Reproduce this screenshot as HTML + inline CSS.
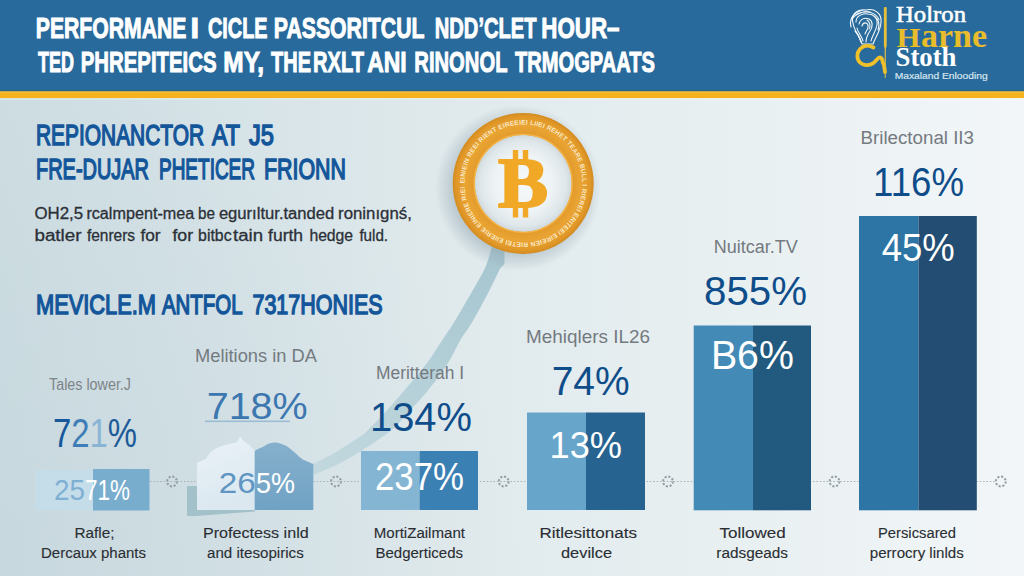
<!DOCTYPE html>
<html lang="en">
<head>
<meta charset="utf-8">
<title>Performance infographic</title>
<style>
  html,body{margin:0;padding:0;background:#dfe9ec;}
  body{width:1024px;height:576px;overflow:hidden;font-family:"Liberation Sans",sans-serif;}
  svg{display:block;position:absolute;left:0;top:0;}
  text{font-family:"Liberation Sans",sans-serif;}
  .t{font-weight:700;fill:#ffffff;font-size:30px;stroke:#ffffff;stroke-width:1px;}
  .h{font-weight:400;fill:#13569a;font-size:29px;stroke:#13569a;stroke-width:1.5px;}
  .b{fill:#2b3037;font-size:16px;stroke:#2b3037;stroke-width:0.3px;}
  .g{fill:#747a80;font-size:18px;}
  .p{fill:#0f4d8a;font-size:40px;}
  .w{fill:#ffffff;font-size:38px;}
  .l{fill:#2a2e33;font-size:15.5px;stroke:#2a2e33;stroke-width:0.12px;}
  .s{font-family:"Liberation Serif",serif;font-weight:700;}
</style>
</head>
<body>
<svg width="1024" height="576" viewBox="0 0 1024 576">
  <defs>
    <linearGradient id="bg" x1="0" y1="0" x2="1" y2="0">
      <stop offset="0" stop-color="#cddde2"/>
      <stop offset="0.3" stop-color="#d9e5e9"/>
      <stop offset="0.42" stop-color="#dfe9ec"/>
      <stop offset="0.65" stop-color="#e6eef0"/>
      <stop offset="1" stop-color="#f2f6f8"/>
    </linearGradient>
    <radialGradient id="bgv" gradientUnits="userSpaceOnUse" cx="0" cy="576" r="520">
      <stop offset="0" stop-color="#b9cdd5" stop-opacity="0.32"/>
      <stop offset="1" stop-color="#b9cdd5" stop-opacity="0"/>
    </radialGradient>
    <radialGradient id="coinsh" cx="0.5" cy="0.5" r="0.5">
      <stop offset="0.76" stop-color="#8fa3ad" stop-opacity="0.5"/>
      <stop offset="1" stop-color="#8fa3ad" stop-opacity="0"/>
    </radialGradient>
    <linearGradient id="b2l" x1="0" y1="0" x2="0.3" y2="1">
      <stop offset="0" stop-color="#eaf2f7"/><stop offset="1" stop-color="#dbe8f0"/>
    </linearGradient>
    <linearGradient id="b2r" x1="0" y1="0" x2="0" y2="1">
      <stop offset="0" stop-color="#86b0cd"/><stop offset="1" stop-color="#70a2c4"/>
    </linearGradient>
    <linearGradient id="arw" gradientUnits="userSpaceOnUse" x1="300" y1="490" x2="500" y2="250">
      <stop offset="0" stop-color="#c4d9df"/><stop offset="0.5" stop-color="#b5d0d8"/><stop offset="1" stop-color="#a6c6d0"/>
    </linearGradient>
    <radialGradient id="disc" cx="0.5" cy="0.5" r="0.5">
      <stop offset="0" stop-color="#f5f8f9"/><stop offset="0.6" stop-color="#eef3f5"/><stop offset="0.88" stop-color="#dfe7ea"/><stop offset="1" stop-color="#cfdade"/>
    </radialGradient>
    <radialGradient id="ring" cx="0.5" cy="0.5" r="0.5">
      <stop offset="0.68" stop-color="#e29a2a"/><stop offset="0.82" stop-color="#e9a433"/><stop offset="0.95" stop-color="#e09728"/><stop offset="1" stop-color="#d38a1f"/>
    </radialGradient>
    <path id="ringpath" d="M 464.5 183.5 A 59 59 0 1 1 464.5 183.6"/>
  </defs>

  <!-- page background -->
  <rect x="0" y="0" width="1024" height="576" fill="url(#bg)"/>
  <rect x="0" y="98" width="1024" height="478" fill="url(#bgv)"/>

  <!-- header band -->
  <rect x="0" y="0" width="1024" height="91.5" fill="#276a9b"/>
  <rect x="0" y="90.4" width="1024" height="1.4" fill="#2b5f74"/>
  <rect x="0" y="91.5" width="1024" height="6.6" fill="#f5b21c"/>
  <rect x="0" y="91.5" width="1024" height="1.2" fill="#f1c24a"/>
  <rect x="0" y="98.1" width="1024" height="1.6" fill="#ffffff" opacity="0.35"/>

  <!-- header text -->
  <text class="t" x="35.8" y="38" textLength="150.7" lengthAdjust="spacingAndGlyphs">PERFORMANE</text>
  <text class="t" x="190.5" y="38" textLength="8.6" lengthAdjust="spacingAndGlyphs">I</text>
  <text class="t" x="208" y="38" textLength="59.5" lengthAdjust="spacingAndGlyphs">CICLE</text>
  <text class="t" x="273.8" y="38" textLength="150.7" lengthAdjust="spacingAndGlyphs">PASSORITCUL</text>
  <text class="t" x="434.8" y="38" textLength="101.7" lengthAdjust="spacingAndGlyphs">NDD’CLET</text>
  <text class="t" x="541.3" y="38" textLength="78.2" lengthAdjust="spacingAndGlyphs">HOUR–</text>
  <text class="t" x="38" y="72" textLength="36" lengthAdjust="spacingAndGlyphs">TED</text>
  <text class="t" x="80.8" y="72" textLength="135.7" lengthAdjust="spacingAndGlyphs">PHREPITEICS</text>
  <text class="t" x="223.3" y="72" textLength="40.7" lengthAdjust="spacingAndGlyphs">MY,</text>
  <text class="t" x="271" y="72" textLength="40" lengthAdjust="spacingAndGlyphs">THE</text>
  <text class="t" x="313" y="72" textLength="51" lengthAdjust="spacingAndGlyphs">RXLT</text>
  <text class="t" x="367.2" y="72" textLength="39.5" lengthAdjust="spacingAndGlyphs">ANI</text>
  <text class="t" x="414.3" y="72" textLength="93.2" lengthAdjust="spacingAndGlyphs">RINONOL</text>
  <text class="t" x="515" y="72" textLength="140" lengthAdjust="spacingAndGlyphs">TRMOGPAATS</text>
  <!-- logo -->
  <g fill="none" stroke="#f4f8fb" stroke-width="1.1" stroke-linecap="round" stroke-linejoin="round">
    <path d="M 853 23 C 850 14 858 9 866 10 C 874 8 882 13 881 22 C 881 30 876 36 873 44 L 862 44 C 860 36 854 31 853 23 Z"/>
    <path d="M 856 22 C 856 16 862 13 868 14 C 874 14 878 19 877 25 C 876 31 872 36 871 41"/>
    <path d="M 859 24 C 860 19 865 17 869 19 C 873 21 873 27 870 31 C 868 34 866 38 866 42"/>
    <path d="M 862 26 C 863 22 867 22 868 25 C 869 28 866 31 865 34"/>
    <path d="M 851 27 C 849 20 853 13 860 11 M 864 12 C 870 11 877 14 879 20 M 857 28 C 858 33 862 36 863 41 M 867 20 C 870 22 871 26 869 29"/>
    <path d="M 852 19 C 856 13 864 11 870 12 M 855 31 C 858 34 860 38 861 42 M 874 16 C 879 19 880 25 878 30"/>
  </g>
  <path d="M 873.5 47.5 C 869 45 863.5 45.5 860 49 C 856.5 53 856.5 59 860 62.5 C 863.5 66 869.5 66 873.5 63 C 877 60.5 878 56.5 880.5 57.5 C 883 58.5 882 62 884 65 L 885 72" fill="none" stroke="#f0c02a" stroke-width="3.8" stroke-linecap="round" stroke-linejoin="round"/>
  <path d="M 883.9 8 C 883.9 6.6 886.7 6.6 886.7 8 L 886.7 45 C 886.7 47 886 47.5 885.9 49 L 885.7 78 L 884.7 78 L 884.7 49 C 884.6 47.5 883.9 47 883.9 45 Z" fill="#e6c03a"/>
  <text class="s" x="896" y="22" stroke="#ffffff" stroke-width="0.55" textLength="70" lengthAdjust="spacingAndGlyphs" style="font-size:22.5px;font-weight:400" fill="#ffffff">Holron</text>
  <text class="s" x="896.5" y="47" fill="#e9bc2c"><tspan style="font-size:27px" textLength="24" lengthAdjust="spacingAndGlyphs">H</tspan><tspan style="font-size:34px" x="921" textLength="66" lengthAdjust="spacingAndGlyphs">arne</tspan></text>
  <text class="s" x="895.5" y="66.4" textLength="61" lengthAdjust="spacingAndGlyphs" style="font-size:26.5px" fill="#ffffff">Stoth</text>
  <text class="" x="894.7" y="79.2" textLength="93" lengthAdjust="spacingAndGlyphs" style="font-size:9.6px" fill="#d6e4ef" stroke="#d6e4ef" stroke-width="0.2">Maxaland Enlooding</text>
  <!-- left headings and body -->
  <text class="h" x="36" y="145" textLength="168" lengthAdjust="spacingAndGlyphs">REPIONANCTOR</text>
  <text class="h" x="212" y="145" textLength="28" lengthAdjust="spacingAndGlyphs">AT</text>
  <text class="h" x="249" y="145" textLength="25" lengthAdjust="spacingAndGlyphs">J5</text>
  <text class="h" x="36" y="179" textLength="113" lengthAdjust="spacingAndGlyphs">FRE-DUJAR</text>
  <text class="h" x="159" y="179" textLength="96" lengthAdjust="spacingAndGlyphs">PHETICER</text>
  <text class="h" x="264" y="179" textLength="82" lengthAdjust="spacingAndGlyphs">FRIONN</text>
  <text class="b" y="218.7"><tspan x="34.4" textLength="48.7" lengthAdjust="spacingAndGlyphs">OH2,5</tspan> <tspan x="86.4" textLength="107.9" lengthAdjust="spacingAndGlyphs">rcalmpent-mea</tspan> <tspan x="198.1" textLength="17" lengthAdjust="spacingAndGlyphs">be</tspan> <tspan x="218.9" textLength="115.4" lengthAdjust="spacingAndGlyphs">egurıltur.tanded</tspan> <tspan x="338.1" textLength="73.7" lengthAdjust="spacingAndGlyphs">roninıgnś,</tspan></text>
  <text class="b" y="240.5"><tspan x="34.4" textLength="47.2" lengthAdjust="spacingAndGlyphs">batler</tspan> <tspan x="86.9" textLength="48.2" lengthAdjust="spacingAndGlyphs">fenrers</tspan> <tspan x="140.4" textLength="20.2" lengthAdjust="spacingAndGlyphs">for</tspan> <tspan x="172.4" textLength="20.7" lengthAdjust="spacingAndGlyphs">for</tspan> <tspan x="198.1" textLength="33.5" lengthAdjust="spacingAndGlyphs">bitbc</tspan> <tspan x="233.1" textLength="30" lengthAdjust="spacingAndGlyphs">tain</tspan> <tspan x="268.1" textLength="35" lengthAdjust="spacingAndGlyphs">furth</tspan> <tspan x="309.4" textLength="43.7" lengthAdjust="spacingAndGlyphs">hedge</tspan> <tspan x="359.4" textLength="28.7" lengthAdjust="spacingAndGlyphs">fuld.</tspan></text>
  <text class="h" x="36" y="314" textLength="120" lengthAdjust="spacingAndGlyphs" style="font-size:28px">MEVICLE.M</text>
  <text class="h" x="162" y="314" textLength="80.5" lengthAdjust="spacingAndGlyphs" style="font-size:28px">ANTFOL</text>
  <text class="h" x="252.5" y="314" textLength="130" lengthAdjust="spacingAndGlyphs" style="font-size:28px">7317HONIES</text>
  <!-- growth arrow -->
  <path d="M 288 477 C 290.0 476.0 295.8 473.2 300 471 C 304.2 468.8 307.2 467.2 313.4 463.9 C 319.5 460.6 329.1 455.9 336.9 451.4 C 344.7 446.8 355.1 440.2 360.3 436.6 C 365.5 433.0 363.6 434.4 368 430 C 372.4 425.6 380.4 417.5 386.9 410.3 C 393.4 403.1 400.6 394.7 407.2 386.9 C 413.8 379.1 420.8 371.2 426.7 363.4 C 432.6 355.6 437.8 346.8 442.3 340 C 446.8 333.2 448.9 330.6 453.9 322.5 C 458.9 314.4 467.0 300.4 472.2 291.25 C 477.4 282.1 481.9 275.3 485.2 267.8 C 488.5 260.3 490.9 249.6 492 246 L 504.5 246 L 504.5 264 L 500 268.5 C 498.2 272.3 493.7 282.2 489 291.25 C 484.3 300.2 476.7 314.4 471.9 322.5 C 467.1 330.6 464.4 333.2 460.4 340 C 456.4 346.8 452.8 355.6 447.8 363.4 C 442.8 371.2 436.9 379.1 430.6 386.9 C 424.4 394.7 416.8 403.1 410.3 410.3 C 403.8 417.5 399.8 423.1 391.5 430 C 383.2 436.9 369.4 445.6 360.3 451.4 C 351.2 457.2 344.7 460.8 336.9 464.7 C 329.1 468.6 319.5 472.1 313.4 474.8 C 307.2 477.5 304.2 479.0 300 481 C 295.8 483.0 290.0 486.0 288 487 Z" fill="url(#arw)"/>
  <!-- bitcoin coin -->
  <circle cx="518" cy="188" r="83" fill="url(#coinsh)"/>
  <circle cx="523.2" cy="183.4" r="70.5" fill="url(#ring)"/>
    <circle cx="523.2" cy="183.4" r="48.5" fill="url(#disc)"/>
  <circle cx="523.2" cy="183.4" r="49" fill="none" stroke="#f3b44a" stroke-width="1.4"/>
  <text style="font-size:6.5px" font-weight="700" fill="#fbe9c6" letter-spacing="0.2"><textPath href="#ringpath" startOffset="0">EINIEIN REEI RIENT EIREEIEI LIIEI REHET TEARE BULL I RIEREI ERITEEI EIREIEN RIETEI EIIERIE EINIERE RIEI</textPath></text>
  <rect x="512.8" y="150" width="5.4" height="12" fill="#f0a826"/>
  <rect x="522.8" y="150" width="5.4" height="12" fill="#f0a826"/>
  <rect x="512.8" y="205" width="5.4" height="12.5" fill="#f0a826"/>
  <rect x="522.8" y="205" width="5.4" height="12.5" fill="#f0a826"/>
  <text class="s" x="498" y="207" style="font-size:71px" fill="#f0a826" stroke="#f0a826" stroke-width="2.2" stroke-linejoin="round" textLength="50" lengthAdjust="spacingAndGlyphs">B</text>
  <!-- dotted baseline with gears -->
  <line x1="150" y1="481.5" x2="996" y2="481.5" stroke="#aab3b8" stroke-width="1" stroke-dasharray="1.6 1.8"/>
  <g fill="none" stroke="#939da3" stroke-width="2" stroke-dasharray="2.1 1.7">
    <circle cx="172" cy="481.5" r="4.9"/><circle cx="336" cy="481.5" r="4.9"/><circle cx="503.7" cy="481.5" r="4.9"/>
    <circle cx="668" cy="481.5" r="4.9"/><circle cx="834.5" cy="481.5" r="4.9"/><circle cx="1000.8" cy="481.5" r="4.9"/>
  </g>
  <!-- bars -->
  <rect x="35" y="470" width="58" height="40.5" fill="#c4dde9"/>
  <rect x="93" y="469" width="56.5" height="41.5" fill="#79adcd"/>
  <path d="M 187 486 L 198 486 L 198 510 L 255 510 L 255 511.5 L 196 516 L 187 516 Z" fill="#a3c1c8"/>
  <path d="M 197 510 L 197 462.5 L 206 459 C 208 455 210 453 212 451 C 216 448 220 446.5 223.5 445.5 C 228 444 233 443 237 442.5 L 240 436.5 L 243 440 C 245 442 247 443.5 249.5 445 L 254.7 451 L 254.7 510 Z" fill="url(#b2l)"/>
  <path d="M 254.7 510 L 254.7 451 C 257 449 260 448 263.3 446.7 C 267 444 270 442.6 273.7 442.4 C 279 442.5 283 444 287.6 446.7 C 291 449 295 452.5 298 455.4 C 300 457.5 302 459 305 460.6 C 308 462 310.5 463 313.3 464 L 313.3 510 Z" fill="url(#b2r)"/>
  <rect x="361" y="451" width="58.5" height="59" fill="#84b5d3"/>
  <rect x="419.5" y="451" width="58.5" height="59" fill="#3b80b3"/>
  <rect x="527" y="412.5" width="59" height="97.5" fill="#67a5ca"/>
  <rect x="586" y="412.5" width="59" height="97.5" fill="#276390"/>
  <rect x="693.7" y="325.5" width="59.3" height="184.8" fill="#448ab7"/>
  <rect x="753" y="325.5" width="58" height="184.8" fill="#22597f"/>
  <rect x="859" y="216" width="59.5" height="294.3" fill="#2d75a5"/>
  <rect x="918.5" y="216" width="58.3" height="294.3" fill="#234d72"/>
  <!-- category titles -->
  <text class="g" x="49" y="390" textLength="82" lengthAdjust="spacingAndGlyphs" style="font-size:16px;fill:#7e8489">Tales lower.J</text>
  <text class="g" x="195" y="362" textLength="122" lengthAdjust="spacingAndGlyphs">Melitions in DA</text>
  <text class="g" x="376" y="378.5" textLength="88" lengthAdjust="spacingAndGlyphs">Meritterah I</text>
  <text class="g" x="526" y="343" textLength="124" lengthAdjust="spacingAndGlyphs">Mehiqlers IL26</text>
  <text class="g" x="713.7" y="253" textLength="84" lengthAdjust="spacingAndGlyphs">Nuitcar.TV</text>
  <text class="g" x="860.5" y="143.7" textLength="113.5" lengthAdjust="spacingAndGlyphs">Brilectonal II3</text>
  <!-- big percentages -->
  <text class="p" x="53" y="446.7" textLength="84" lengthAdjust="spacingAndGlyphs"><tspan fill="#17579b">7</tspan><tspan fill="#3f7db7">2</tspan><tspan fill="#8ab4d3">1</tspan><tspan fill="#1c5a99">%</tspan></text>
  <text class="p" x="206.7" y="418.7" textLength="101" lengthAdjust="spacingAndGlyphs" style="font-size:37px;fill:#2c6cab" opacity="0.9">718%</text>
  <rect x="205" y="420.5" width="85" height="1.6" fill="#8fb3cf" opacity="0.8"/>
  <text class="p" x="370" y="431" textLength="102" lengthAdjust="spacingAndGlyphs">134%</text>
  <text class="p" x="551.7" y="394.5" textLength="78" lengthAdjust="spacingAndGlyphs">74%</text>
  <text class="p" x="704" y="305" textLength="103" lengthAdjust="spacingAndGlyphs">855%</text>
  <text class="p" x="873" y="196" textLength="91" lengthAdjust="spacingAndGlyphs">116%</text>
  <!-- in-bar percentages -->
  <text class="w" y="500" style="font-size:29px"><tspan x="54" fill="#7fb0d4" textLength="31" lengthAdjust="spacingAndGlyphs">25</tspan><tspan x="85" textLength="45" lengthAdjust="spacingAndGlyphs">71%</tspan></text>
  <text class="w" y="492.5" style="font-size:30px"><tspan x="218.7" fill="#5e95c2" textLength="37" lengthAdjust="spacingAndGlyphs">26</tspan><tspan x="256" textLength="39" lengthAdjust="spacingAndGlyphs">5%</tspan></text>
  <text class="w" x="375" y="490" textLength="89" lengthAdjust="spacingAndGlyphs" style="font-size:38px">237%</text>
  <text class="w" x="549.5" y="457.5" textLength="72.5" lengthAdjust="spacingAndGlyphs" style="font-size:36px">13%</text>
  <text class="w" x="710.9" y="369" textLength="83" lengthAdjust="spacingAndGlyphs" style="font-size:40px">B6%</text>
  <text class="w" x="881.8" y="260.5" textLength="73" lengthAdjust="spacingAndGlyphs" style="font-size:39px">45%</text>
  <!-- bottom labels -->
  <text class="l" x="74.5" y="538" textLength="40" lengthAdjust="spacingAndGlyphs">Rafle;</text>
  <text class="l" x="41" y="558" textLength="105" lengthAdjust="spacingAndGlyphs">Dercaux phants</text>
  <text class="l" x="203" y="538" textLength="105.7" lengthAdjust="spacingAndGlyphs">Profectess inld</text>
  <text class="l" x="207" y="558" textLength="96.7" lengthAdjust="spacingAndGlyphs">and itesopirics</text>
  <text class="l" x="373.7" y="538" textLength="91.3" lengthAdjust="spacingAndGlyphs">MortiZailmant</text>
  <text class="l" x="375.5" y="558" textLength="87.5" lengthAdjust="spacingAndGlyphs">Bedgerticeds</text>
  <text class="l" x="539.5" y="538" textLength="97.5" lengthAdjust="spacingAndGlyphs">Ritlesittonats</text>
  <text class="l" x="561" y="558" textLength="51" lengthAdjust="spacingAndGlyphs">devilce</text>
  <text class="l" x="719.6" y="538" textLength="66.2" lengthAdjust="spacingAndGlyphs">Tollowed</text>
  <text class="l" x="716.3" y="558" textLength="71.7" lengthAdjust="spacingAndGlyphs">radsgeads</text>
  <text class="l" x="878" y="538" textLength="78" lengthAdjust="spacingAndGlyphs">Persicsared</text>
  <text class="l" x="869.8" y="558" textLength="94" lengthAdjust="spacingAndGlyphs">perrocry linlds</text>
</svg>
</body>
</html>
